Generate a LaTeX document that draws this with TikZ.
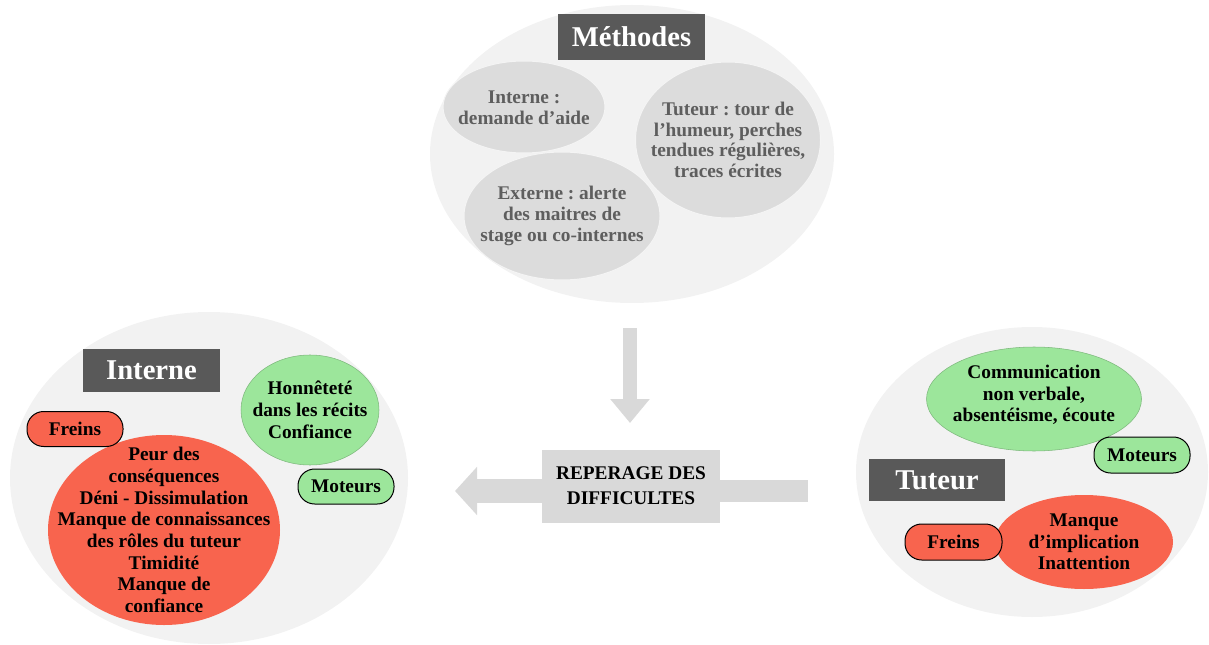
\documentclass[tikz,border=0pt]{standalone}
\usepackage{fontspec}
\setmainfont{Liberation Serif}
\usetikzlibrary{shapes.geometric,arrows.meta}
\definecolor{bgc}{HTML}{F2F2F2}
\definecolor{grayell}{HTML}{DCDCDC}
\definecolor{labelc}{HTML}{595959}
\definecolor{arrowc}{HTML}{D9D9D9}
\definecolor{greenc}{HTML}{9CE69B}
\definecolor{redc}{HTML}{F8644E}
\definecolor{gtext}{HTML}{5E5E5E}
\frenchspacing
\begin{document}
\begin{tikzpicture}[x=0.75pt,y=-0.75pt,
  bigell/.style={ellipse, fill=bgc, inner sep=0pt},
  grayell/.style={ellipse, fill=grayell, draw=white!70!grayell, line width=0.75pt, inner sep=0pt},
  greenell/.style={ellipse, fill=greenc, draw=greenc!80!black, line width=0.4pt, inner sep=0pt},
  redell/.style={ellipse, fill=redc, inner sep=0pt},
  txt/.style={align=center, font=\frenchspacing\bfseries\fontsize{14.5}{16.3}\selectfont, text=black, inner sep=0pt},
  gtxt/.style={align=center, font=\frenchspacing\bfseries\fontsize{14.5}{15.5}\selectfont, text=gtext, inner sep=0pt},
  titlebox/.style={fill=labelc, text=white, font=\bfseries\fontsize{21.5}{24}\selectfont, inner sep=0pt},
  pill/.style={draw=black, line width=0.75pt, rounded corners=12.5pt, inner sep=0pt,
    minimum width=96*0.75pt, minimum height=35*0.75pt, font=\bfseries\fontsize{14.5}{16}\selectfont},
  blockarrow/.style={draw=arrowc, line width=#1}
]
\useasboundingbox (0,0) rectangle (1209,645);

% ---- Méthodes ----
\node[bigell, minimum width=404*0.75pt, minimum height=298*0.75pt] (meth) at (632,154) {};
\node[grayell, minimum width=162*0.75pt, minimum height=92*0.75pt] (mint) at (524,107) {};
\node[grayell, minimum width=196*0.75pt, minimum height=128*0.75pt] (mext) at (562,216) {};
\node[grayell, minimum width=185*0.75pt, minimum height=156*0.75pt] (mtut) at (728,140) {};
\node[gtxt] (mintt) at (524,108) {Interne :\\demande d’aide};
\node[gtxt] (mextt) at (562,216) {Externe : alerte\\des maitres de\\stage ou co-internes};
\node[gtxt] (mtutt) at (728,140) {Tuteur : tour de\\l’humeur, perches\\tendues régulières,\\traces écrites};
\node[titlebox, minimum width=147*0.75pt, minimum height=46*0.75pt] (methl) at (631.5,37) {Méthodes};

% ---- Interne ----
\node[bigell, minimum width=398*0.75pt, minimum height=332*0.75pt] (intc) at (209,478) {};
\node[titlebox, minimum width=137*0.75pt, minimum height=43*0.75pt] (intl) at (151.5,370.5) {Interne};
\node[redell, minimum width=232*0.75pt, minimum height=190*0.75pt] (intred) at (164,530) {};
\node[txt] (intredt) at (164,530) {Peur des\\conséquences\\Déni - Dissimulation\\Manque de connaissances\\des rôles du tuteur\\Timidité\\Manque de\\confiance};
\node[greenell, minimum width=138*0.75pt, minimum height=110*0.75pt] (intgr) at (310,410) {};
\node[txt] (intgrt) at (310,410) {Honnêteté\\dans les récits\\Confiance};
\node[pill, fill=redc] (intfr) at (75,429) {Freins};
\node[pill, fill=greenc] (intmo) at (346,486.5) {Moteurs};

% ---- Tuteur ----
\node[bigell, minimum width=352*0.75pt, minimum height=290*0.75pt] (tutc) at (1032,472) {};
\node[greenell, minimum width=215*0.75pt, minimum height=104*0.75pt] (tutgr) at (1034,399) {};
\node[txt] (tutgrt) at (1034,395) {Communication\\non verbale,\\absentéisme, écoute};
\node[pill, fill=greenc, minimum height=36*0.75pt] (tutmo) at (1142,455) {Moteurs};
\node[titlebox, minimum width=136*0.75pt, minimum height=42*0.75pt] (tutl) at (937,480) {Tuteur};
\node[redell, minimum width=178*0.75pt, minimum height=94*0.75pt] (tutred) at (1084,542) {};
\node[txt] (tutredt) at (1084,542) {Manque\\d’implication\\Inattention};
\node[pill, fill=redc, minimum width=97*0.75pt, minimum height=36*0.75pt] (tutfr) at (953.5,542) {Freins};

% ---- centre ----
\coordinate (dtop) at (630,328);
\coordinate (dtip) at (630,423);
\coordinate (ltip) at (455,491);
\coordinate (rend) at (808,491);
\draw[blockarrow=14*0.75pt, -{Triangle[width=38*0.75pt, length=24*0.75pt, fill=arrowc]}] (dtop) -- (dtip);
\node[fill=arrowc, minimum width=178*0.75pt, minimum height=73*0.75pt, inner sep=0pt] (rep) at (631,486.5) {};
\draw[blockarrow=24*0.75pt, -{Triangle[width=47*0.75pt, length=22*0.75pt, fill=arrowc]}] (rep.west |- ltip) -- (ltip);
\draw[blockarrow=22*0.75pt] (rep.east |- rend) -- (rend);
\node[align=center, font=\bfseries\fontsize{14.5}{18.75}\selectfont, inner sep=0pt] (rept) at (631,486) {REPERAGE DES\\DIFFICULTES};
\end{tikzpicture}
\end{document}
